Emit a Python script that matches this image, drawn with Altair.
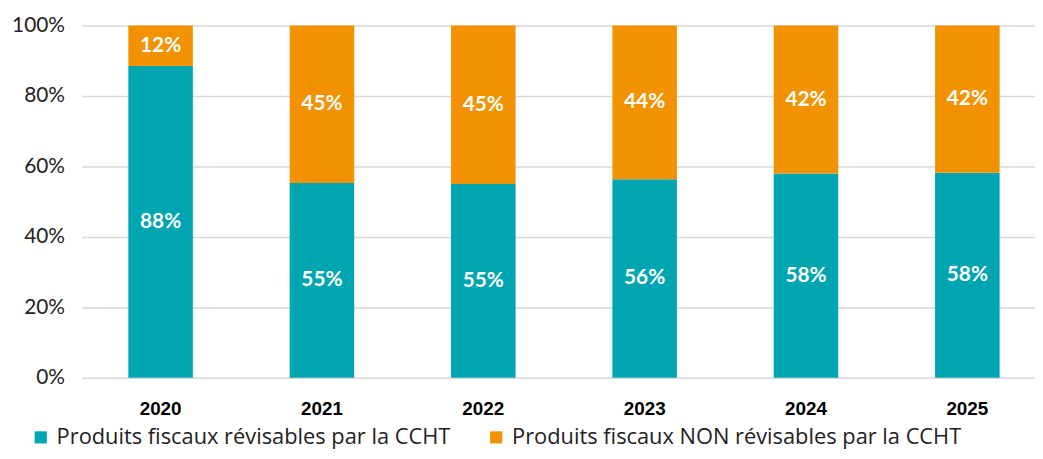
import altair as alt
import pandas as pd

years = ["2020", "2021", "2022", "2023", "2024", "2025"]
revisables = [88.5, 55.3, 55.0, 56.4, 58.0, 58.2]
labels_rev = ["88%", "55%", "55%", "56%", "58%", "58%"]
non_revisables = [11.5, 44.7, 45.0, 43.6, 42.0, 41.8]
labels_non = ["12%", "45%", "45%", "44%", "42%", "42%"]
series = ["Produits fiscaux révisables par la CCHT",
          "Produits fiscaux NON révisables par la CCHT"]
colors = ["#00A5B2", "#F39200"]

rows = []
for i, y in enumerate(years):
    rows.append({"year": y, "series": series[0], "value": revisables[i] / 100, "label": labels_rev[i], "order": 0})
    rows.append({"year": y, "series": series[1], "value": non_revisables[i] / 100, "label": labels_non[i], "order": 1})
df = pd.DataFrame(rows)

FONT = "Lato"
LEGEND_FONT = "Open Sans"

x_enc = alt.X("year:N", sort=years,
              scale=alt.Scale(paddingInner=0.6, paddingOuter=0.255, align=0.57),
              axis=alt.Axis(title=None, labelAngle=0, labelFont="Liberation Sans",
                            labelFontWeight="bold", labelFontSize=19, labelColor="#000000",
                            labelPadding=22, ticks=False, domain=False))

bars = alt.Chart(df).mark_bar().encode(
    x=x_enc,
    order=alt.Order("order:Q"),
    y=alt.Y("value:Q", stack="zero",
            scale=alt.Scale(domain=[0, 1], nice=False),
            axis=alt.Axis(title=None, format=".0%", values=[0, 0.2, 0.4, 0.6, 0.8, 1.0],
                          labelFont=FONT, labelFontSize=21, labelColor="#222222",
                          labelPadding=17, ticks=False, domain=False,
                          gridColor="#D9D9D9", gridWidth=1.5)),
    color=alt.Color("series:N", sort=series,
                    scale=alt.Scale(domain=series, range=colors),
                    legend=alt.Legend(title=None, orient="none", direction="horizontal",
                                      legendX=-52, legendY=404,
                                      symbolType="square", symbolSize=150,
                                      symbolStrokeWidth=0, labelLimit=0,
                                      labelFont=LEGEND_FONT, labelFontSize=22, labelColor="#222222",
                                      labelOffset=5, columnPadding=34)),
)

text = alt.Chart(df).transform_stack(
    stack="value", groupby=["year"], as_=["v0", "v1"], sort=[alt.SortField("order")]
).transform_calculate(
    mid="(datum.v0 + datum.v1) / 2"
).mark_text(color="white", font=FONT, fontWeight="bold", fontSize=21, baseline="middle").encode(
    x=x_enc,
    y=alt.Y("mid:Q"),
    text="label:N",
)

chart = alt.layer(bars, text).properties(
    width=961, height=355,
    autosize=alt.AutoSizeParams(type="none"),
    padding={"left": 74, "top": 16, "right": 0, "bottom": 72},
).configure_view(stroke=None)

chart.save("out.html", embed_options={"renderer": "svg", "actions": False})
